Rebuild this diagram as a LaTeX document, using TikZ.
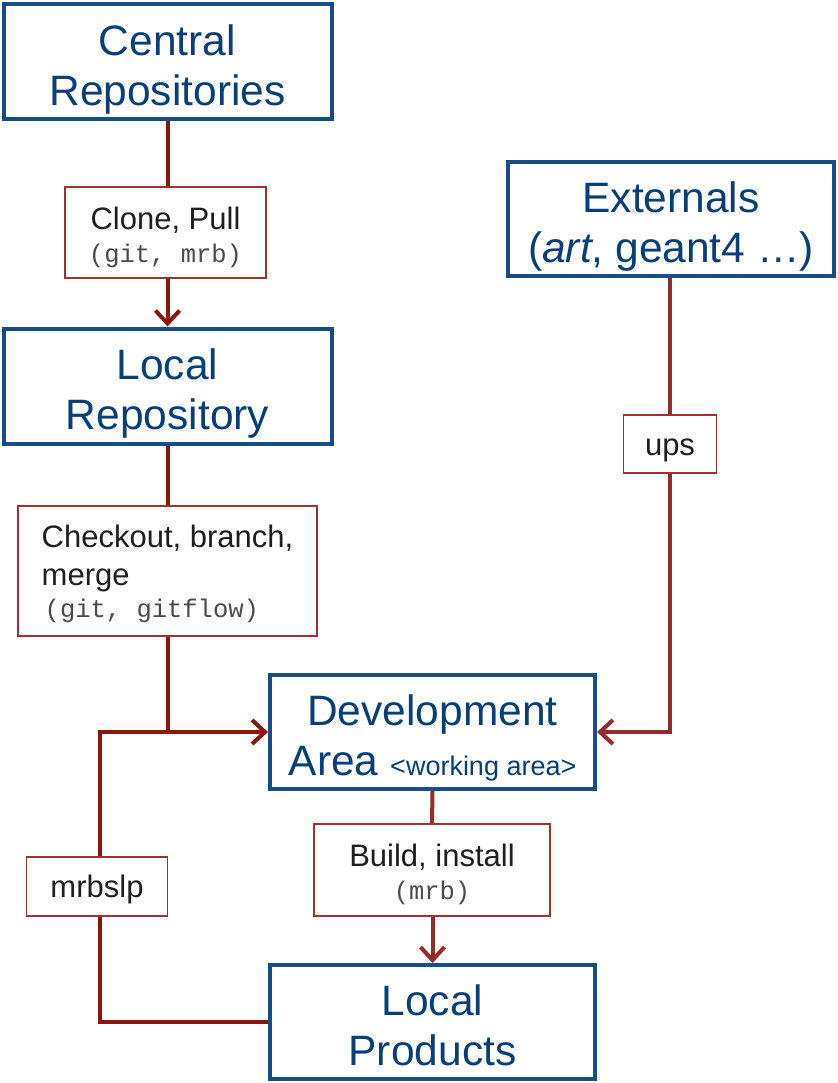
\documentclass[tikz,border=0pt]{standalone}
\usepackage{fontspec}
\setmainfont{Liberation Sans}
\setmonofont{Liberation Mono}
\usetikzlibrary{arrows.meta,shadows,backgrounds}
\definecolor{boxblue}{RGB}{22,78,138}
\definecolor{txtblue}{RGB}{8,62,122}
\definecolor{redA}{RGB}{140,22,12}
\definecolor{redB}{RGB}{152,42,42}
\definecolor{lblred}{RGB}{160,50,50}
\definecolor{monogray}{RGB}{75,75,75}
\definecolor{lbltext}{RGB}{30,30,30}
\newcommand\mybig{\fontsize{42.5}{50}\selectfont}
\newcommand\mylbl{\fontsize{31}{33}\selectfont}
\newcommand\mycode{\fontsize{25.5}{33}\selectfont\ttfamily\color{monogray}}
\newcommand\mysmall{\fontsize{27}{30}\selectfont}
% struts to fix baselines
\newcommand\bigtop{\rule{0pt}{46.5pt}}
\newcommand\bigbot{\rule[-9.5pt]{0pt}{9.5pt}}
\newcommand\lbltop{\rule{0pt}{34pt}}
\newcommand\lblbot{\rule[-8pt]{0pt}{8pt}}
\begin{document}
\begin{tikzpicture}[x=1pt,y=-1pt,
  bluebox/.style={draw=boxblue, line width=4pt, fill=white, text=txtblue, font=\mybig,
    align=center, inner sep=0pt, minimum width=327pt, minimum height=115pt,
    drop shadow={shadow xshift=2pt, shadow yshift=-2pt, opacity=0.25, fill=black}},
  lbl/.style={draw=lblred, line width=1.6pt, fill=white, font=\mylbl, text=lbltext,
    align=center, inner sep=0pt},
  conn/.style={line width=4pt, draw=redA},
  conn2/.style={line width=4pt, draw=redB},
  tip/.style={-{Straight Barb[length=13pt,width=24pt]}}
]
\useasboundingbox (0,0) rectangle (837,1083);

\node[bluebox, minimum width=328pt] (central) at (167.5,62) {\bigtop Central\\Repositories\bigbot};
\node[bluebox, minimum width=328pt] (localrepo) at (167.5,386) {\bigtop Local\\Repository\bigbot};
\node[bluebox, minimum width=326pt, minimum height=114pt] (ext) at (671,219) {\bigtop Externals\\(\textit{art}, geant4 …)\bigbot};
\node[bluebox, minimum width=325pt, minimum height=114pt] (dev) at (432.5,732) {\bigtop Development\\Area {\mysmall <working area>}\bigbot};
\node[bluebox, minimum width=325pt, minimum height=114pt] (prod) at (432.5,1022) {\bigtop Local\\Products\bigbot};

\node[lbl, minimum width=201pt, minimum height=91pt] (clone) at (165.5,232.5) {\lbltop Clone, Pull\\{\mycode (git, mrb)\lblbot}};
\node[lbl, minimum width=299pt, minimum height=130pt, align=left] (checkout) at (167.5,571) {\rule{0pt}{30pt}Checkout, branch,\\[5pt]merge\\[-1pt]{\mycode\hspace{3pt}(git, gitflow)\lblbot}};
\node[lbl, minimum width=93pt, minimum height=58pt] (ups) at (670,444) {\rule{0pt}{30pt}ups\lblbot};
\node[lbl, minimum width=236pt, minimum height=92pt] (build) at (432,870) {\lbltop Build, install\\{\mycode (mrb)\lblbot}};
\node[lbl, minimum width=141pt, minimum height=59pt] (mrbslp) at (97,886.5) {\rule{0pt}{30pt}mrbslp\lblbot};

\coordinate (jn) at (localrepo.south |- dev.west);
\coordinate (lc) at (100,732);

\begin{scope}[on background layer]
\draw[conn] (central.south) -- (central.south |- clone.north);
\draw[conn,tip] (clone.south -| central.south) -- (localrepo.north);
\draw[conn] (localrepo.south) -- (checkout.north);
\draw[conn] (checkout.south) -- (jn);
\draw[conn,tip] (prod.west) -| (lc) -- (dev.west);
\draw[conn2] (ext.south -| ups.north) -- (ups.north);
\draw[conn2,tip] (ups.south) |- (dev.east);
\draw[conn2] (dev.south) -- (build.north);
\draw[conn2,tip] (build.south -| dev.south) -- (prod.north);
\end{scope}
\end{tikzpicture}
\end{document}
